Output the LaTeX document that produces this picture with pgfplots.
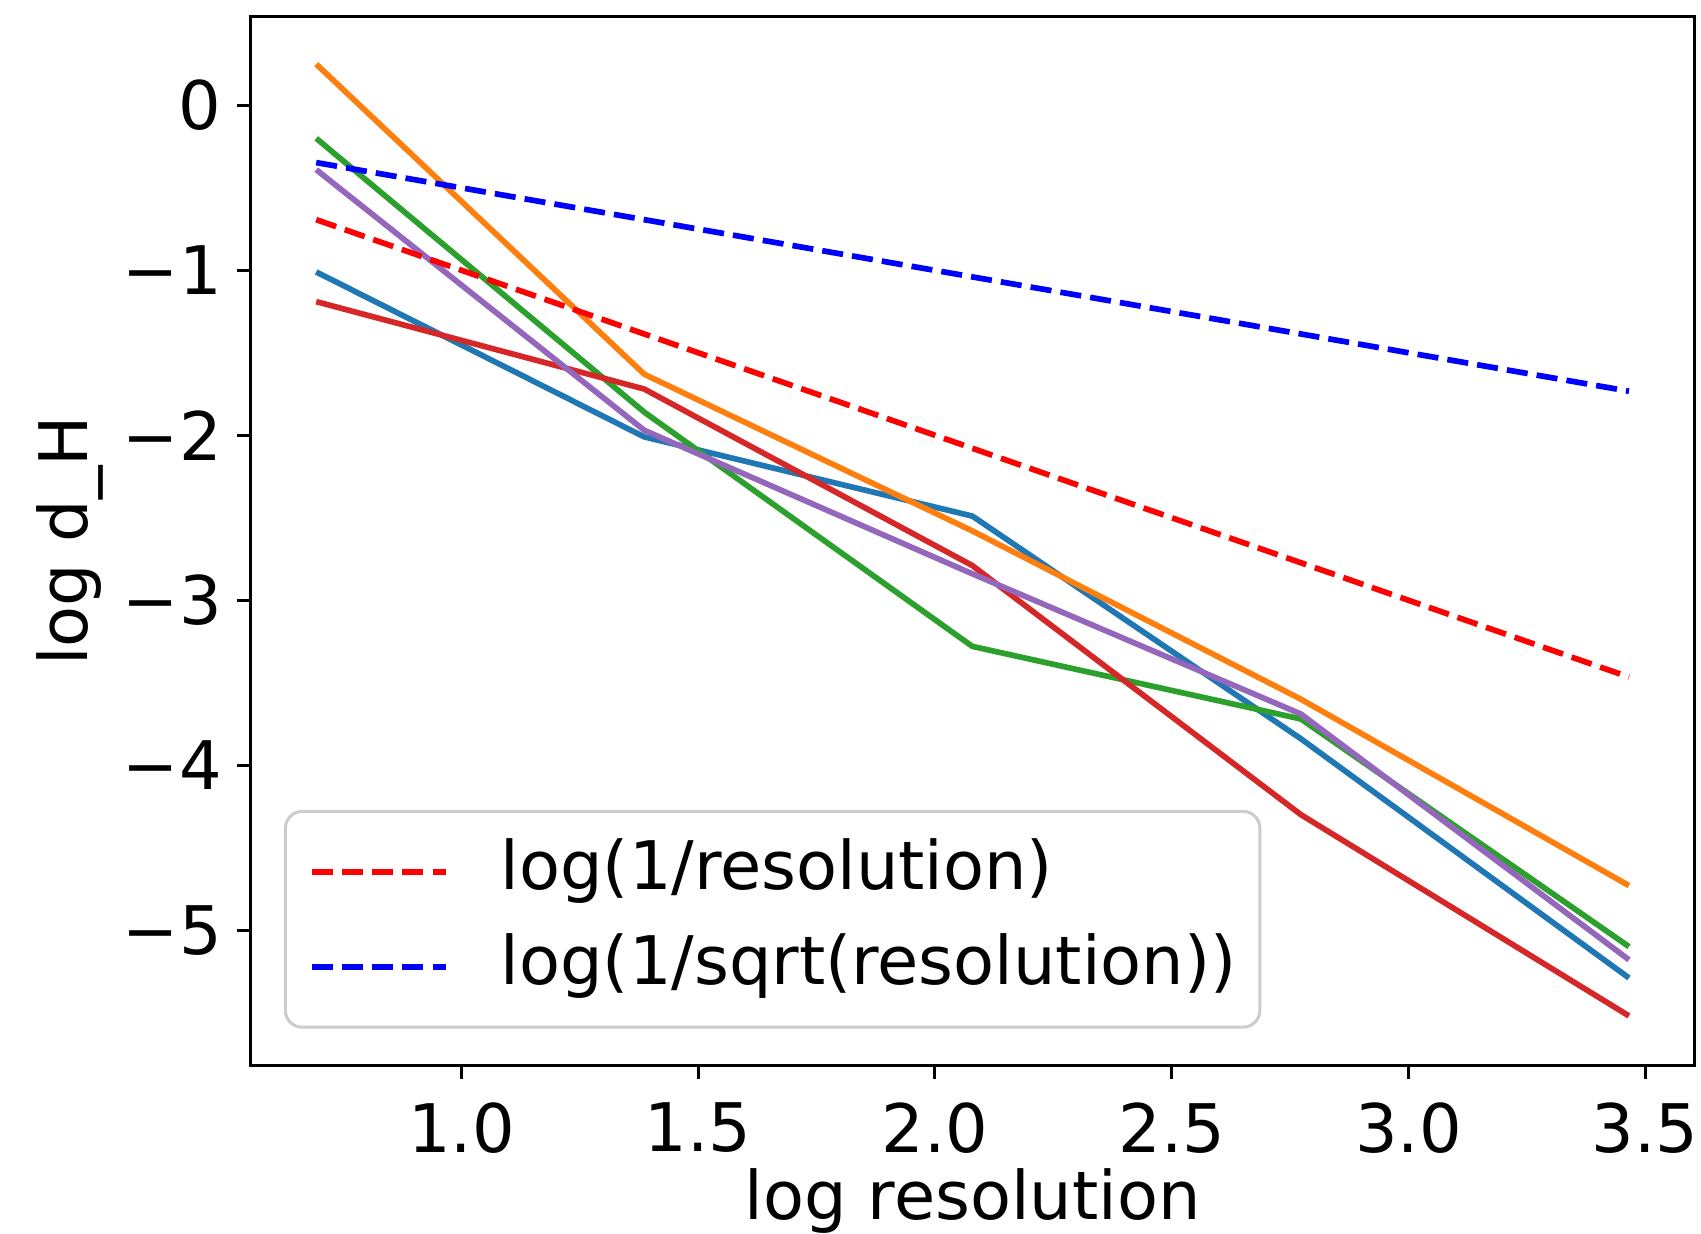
\documentclass[border=0pt]{standalone}
\usepackage{fontspec}
\setmainfont{DejaVu Sans}
\usepackage{pgfplots}
\pgfplotsset{compat=1.18}
\definecolor{tabblue}{HTML}{1F77B4}
\definecolor{taborange}{HTML}{FF7F0E}
\definecolor{tabgreen}{HTML}{2CA02C}
\definecolor{tabred}{HTML}{D62728}
\definecolor{tabpurple}{HTML}{9467BD}

\begin{document}
\begin{tikzpicture}
\begin{axis}[
    scale only axis,
    width=7.575cm,
    height=5.504cm,
    xmin=0.5545, xmax=3.6045,
    ymin=-5.82, ymax=0.54,
    xtick={1,1.5,2,2.5,3,3.5},
    xticklabels={1.0,1.5,2.0,2.5,3.0,3.5},
    ytick={-5,-4,-3,-2,-1,0},
    yticklabels={−5,−4,−3,−2,−1,0},
    tick align=outside,
    xtick pos=lower,
    ytick pos=left,
    major tick length=2pt,
    every tick/.style={black, line width=0.45pt},
    axis line style={line width=0.45pt},
    tick label style={font=\fontsize{10}{12}\selectfont},
    yticklabel style={xshift=1.2pt},
    label style={font=\fontsize{10}{12}\selectfont},
    xlabel={log resolution},
    ylabel={log d\_H},
    xlabel style={yshift=4.5pt},
    ylabel style={yshift=-3.9pt},
    legend cell align=left,
    legend style={
        at={(0.023,0.035)}, anchor=south west,
        draw=black!20, line width=0.45pt, rounded corners=2.5pt,
        fill=white, fill opacity=0.8, text opacity=1,
        inner xsep=3.5pt, inner ysep=4pt, row sep=4.2pt,
        font=\fontsize{10}{12}\selectfont,
        nodes={inner sep=0pt, text height=7.6pt, text depth=2.4pt},
        /tikz/every odd column/.append style={column sep=7.8pt},
    },
    legend image code/.code={\draw[#1] (0pt,0pt) -- (20pt,0pt);},
    every axis plot/.append style={line width=0.85pt, line join=round},
]

\addplot[tabblue, forget plot] coordinates {
    (0.693,-1.01) (1.386,-2.01) (2.079,-2.49) (2.773,-3.84) (3.466,-5.29)
};
\addplot[taborange, forget plot] coordinates {
    (0.693,0.25) (1.386,-1.63) (2.079,-2.58) (2.773,-3.60) (3.466,-4.73)
};
\addplot[tabgreen, forget plot] coordinates {
    (0.693,-0.20) (1.386,-1.86) (2.079,-3.28) (2.773,-3.72) (3.466,-5.10)
};
\addplot[tabred, forget plot] coordinates {
    (0.693,-1.19) (1.386,-1.72) (2.079,-2.79) (2.773,-4.30) (3.466,-5.52)
};
\addplot[tabpurple, forget plot] coordinates {
    (0.693,-0.39) (1.386,-1.97) (2.079,-2.84) (2.773,-3.69) (3.466,-5.18)
};

\addplot[red, dash pattern=on 3.15pt off 1.36pt] coordinates {
    (0.693,-0.693) (1.386,-1.386) (2.079,-2.079) (2.773,-2.773) (3.466,-3.466)
};
\addlegendentry{log(1/resolution)}
\addplot[blue, dash pattern=on 3.15pt off 1.36pt] coordinates {
    (0.693,-0.347) (1.386,-0.693) (2.079,-1.040) (2.773,-1.386) (3.466,-1.733)
};
\addlegendentry{log(1/sqrt(resolution))\hspace{1.2pt}}

\end{axis}
\pgfresetboundingbox
\path (current axis.south west) ++(-1.315cm,-0.881cm);
\path (current axis.north east) ++(0.034cm,0.0855cm);
\end{tikzpicture}
\end{document}
